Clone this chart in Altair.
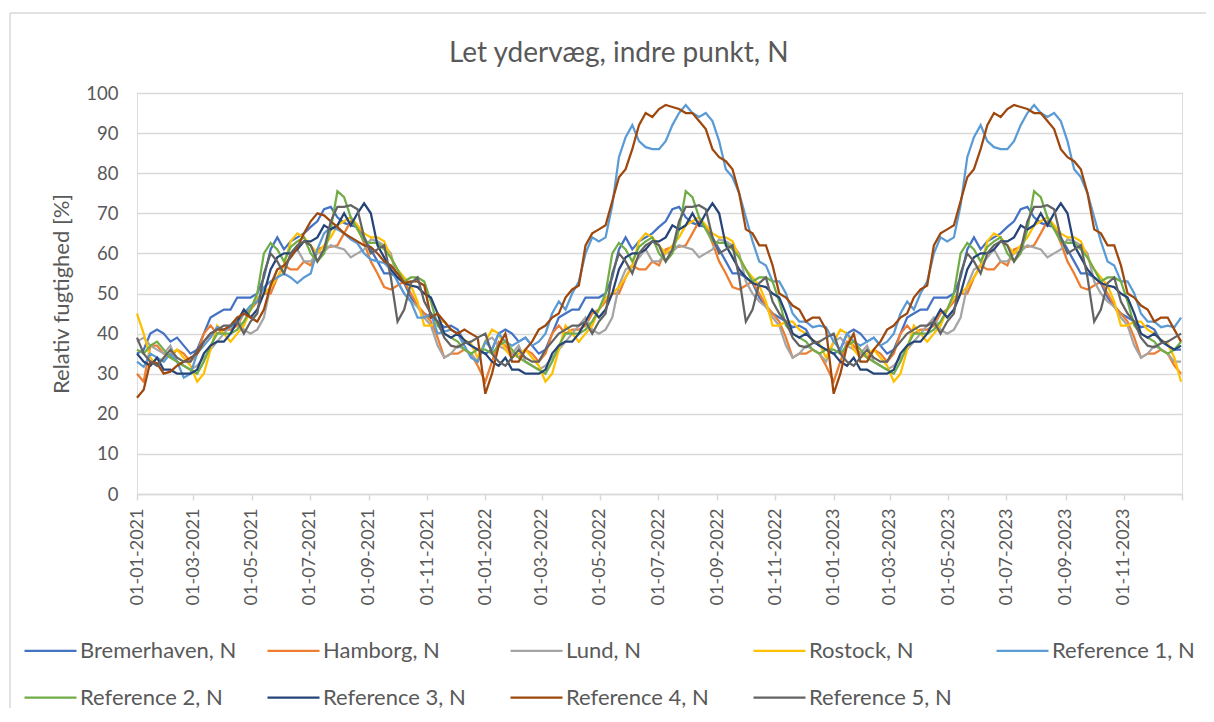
import datetime as dt
import altair as alt
import pandas as pd

SERIES = ["Bremerhaven, N", "Hamborg, N", "Lund, N", "Rostock, N", "Reference 1, N",
          "Reference 2, N", "Reference 3, N", "Reference 4, N", "Reference 5, N"]
COLORS = ["#4472C4", "#ED7D31", "#A5A5A5", "#FFC000", "#5B9BD5",
          "#70AD47", "#264478", "#9E480E", "#636363"]

# Weekly readings over one year (day 0, 7, ..., 357, and 31 Dec), in % RH.
# The simulated year repeats; 2021 differs for Reference 1 and 4.
BREMERHAVEN = [35, 36, 40, 41, 40, 38, 39, 37, 35, 36, 40, 44, 45, 46, 46, 49, 49, 49, 50, 54,
               61, 64, 61, 63, 64, 65, 66.6, 68, 71, 71.6, 69, 67.6, 67, 66.6, 64, 61, 58, 55, 55, 54,
               52.6, 49, 46.7, 45, 44, 43, 41.6, 42, 41, 38, 37, 36, 36]
HAMBORG = [28, 33, 38, 37, 35, 34, 36, 35, 33, 35, 40, 42, 40, 41, 41, 42, 45, 46, 48, 50,
           50, 54, 57, 56, 56, 58, 57, 61, 61.6, 61.6, 62, 65, 68, 66.6, 62.6, 58, 55, 51.6, 51, 52,
           53, 50, 47, 45, 43, 39, 34, 35, 35, 36, 35, 32, 30]
LUND = [38, 39, 37, 36, 35, 37, 33, 32, 31, 32, 34, 36, 38, 40, 42, 44, 41, 40, 41, 44,
        52, 56, 57, 59, 61, 58, 58, 60, 60.5, 62, 61.5, 61, 59, 60, 61, 63.5, 63, 62, 60, 53,
        50, 48, 46.7, 44, 42, 37, 34, 35, 37, 36, 35, 33, 33]
ROSTOCK = [38, 41, 40, 36, 34, 35, 36, 34, 32, 28, 30, 36, 42, 40, 38, 40, 42, 46, 49, 50,
           51.6, 54, 57, 63, 65, 64, 62, 60, 62, 64, 67, 68, 69, 67, 65, 64, 64, 63, 59, 56,
           54, 52, 48, 42, 42, 43, 43, 41, 40, 38.4, 37.5, 34, 28]
REFERENCE_1 = [38, 36, 40, 38, 37, 38, 39, 37, 38, 40, 45, 48, 46, 50, 53, 60, 64, 63, 64, 72,
               84, 89, 92, 88, 86.5, 86, 86, 88, 92, 95, 97, 95, 94, 95, 93, 88, 81, 79, 75, 69,
               63, 58, 57, 53, 53, 50, 45, 43, 43, 41.6, 42, 41.6, 44]
REFERENCE_2 = [36, 35, 37, 38, 36, 34, 33, 32, 31, 30, 33, 37, 40, 40, 40, 41, 43, 46, 50, 60,
               62.6, 61, 58, 61.6, 63, 64, 60, 58, 60, 66, 75.5, 74, 69, 66, 63, 62.6, 62.6, 61, 59, 56,
               53, 54, 54, 53, 48, 42, 40, 39, 38, 36, 35, 36, 38]
REFERENCE_3 = [35, 33, 32, 34, 31, 31, 30, 30, 30, 31, 35, 37, 38, 38, 40, 43, 46, 44, 46, 50,
               56, 59, 60, 60, 61, 63, 63, 64, 67, 66, 67, 70, 67, 70, 72.5, 70, 62, 59, 56, 54,
               52.6, 52, 51.6, 50, 49, 45, 40, 39, 40, 38.4, 37, 36, 37]
REFERENCE_4 = [25, 30, 37, 40, 33, 33, 36, 38, 41, 42, 44, 45, 49, 51, 52, 62, 65, 66, 67, 73,
               79, 81, 86, 92, 95, 94, 96, 97, 96.5, 96, 95, 95, 93, 91, 86, 84, 83, 81, 75, 66,
               65, 62, 62, 57, 50, 49, 47, 46, 43, 44, 44, 41, 38]
REFERENCE_5 = [40, 35, 33, 32, 34, 36, 34, 33, 33, 36, 38, 40, 41, 42, 42, 43, 40, 43, 45, 55,
               60, 58, 55, 60, 62, 63, 62, 58, 61, 68, 71.6, 71.6, 72, 71, 64, 60, 61, 62, 54, 43,
               46, 52.6, 54, 48, 45, 43, 39, 37, 36.6, 37.6, 38, 39, 40]

# 2021 readings where the first year differs
REFERENCE_1_2021 = [33, 31.7, 35, 34, 33, 35, 33, 29, 30, 35, 37, 39, 41.6, 41, 41.6, 43, 45, 47, 48, 51.6,
                    53, 54, 55, 54, 52.6, 54, 55, 61, 65, 66.6, 66, 65, 63.5, 62.5, 60, 58.5, 58, 57.6, 56, 53,
                    50, 48, 44, 44, 45, 40, 40.5, 41, 40, 37, 34, 33]
REFERENCE_4_2021 = [24, 26, 33, 32.6, 30, 30.5, 32, 33, 34, 35, 38, 40, 41, 41, 42, 44, 45, 44, 43, 46,
                    52, 56, 57, 59, 61.5, 65, 68, 70, 69.5, 68, 66.6, 65, 64, 63, 62, 61.6, 60, 58, 57, 55,
                    52.6, 53, 53, 52, 44, 45, 43, 41, 40, 41, 40, 39]
ROSTOCK_START_2021 = [45, 40, 34, 32]
HAMBORG_START_2021 = [30, 28, 37]
REFERENCE_5_START_2021 = [39]

PROFILES = dict(zip(SERIES, [BREMERHAVEN, HAMBORG, LUND, ROSTOCK, REFERENCE_1,
                             REFERENCE_2, REFERENCE_3, REFERENCE_4, REFERENCE_5]))
PROFILES_2021 = {"Reference 1, N": REFERENCE_1_2021, "Reference 4, N": REFERENCE_4_2021}
START_2021 = {"Rostock, N": ROSTOCK_START_2021, "Hamborg, N": HAMBORG_START_2021,
              "Reference 5, N": REFERENCE_5_START_2021}

rows = []
for name in SERIES:
    prof = PROFILES[name]
    for year in (2021, 2022, 2023):
        base = PROFILES_2021.get(name, prof) if year == 2021 else prof
        vals = list(base[:52])
        if year == 2021 and name in START_2021:
            s = START_2021[name]
            vals[:len(s)] = s
        for k, v in enumerate(vals):
            d = dt.date(year, 1, 1) + dt.timedelta(days=7 * k)
            rows.append({"date": d.isoformat() + "T00:00:00", "series": name, "rh": v})
    rows.append({"date": "2023-12-31T00:00:00", "series": name, "rh": prof[52]})
df = pd.DataFrame(rows)

TICKS = [alt.DateTime(year=y, month=m, date=1) for y in (2021, 2022, 2023) for m in (1, 3, 5, 7, 9, 11)]
TICKS.append(alt.DateTime(year=2024, month=1, date=1))

GRAY = "#d9d9d9"
TXT = "#595959"

lines = alt.Chart(df).mark_line(strokeWidth=2.25).encode(
    x=alt.X("date:T",
            scale=alt.Scale(domain=[alt.DateTime(year=2021, month=1, date=1),
                                    alt.DateTime(year=2024, month=1, date=1)]),
            axis=alt.Axis(values=TICKS, title=None, grid=False,
                          labelExpr="year(datum.value) > 2023 ? '' : timeFormat(datum.value, '%d-%m-%Y')",
                          labelAngle=270, labelAlign="right", labelBaseline="middle",
                          labelFont="Lato", labelFontSize=18, labelColor=TXT, labelPadding=8,
                          tickSize=6, tickColor=GRAY, tickWidth=1.5,
                          domainColor=GRAY, domainWidth=1.5, labelOverlap=False)),
    y=alt.Y("rh:Q",
            scale=alt.Scale(domain=[0, 100], nice=False),
            axis=alt.Axis(values=list(range(0, 101, 10)), title="Relativ fugtighed [%]",
                          grid=True, gridColor=GRAY, gridWidth=1.5, domain=False, ticks=False,
                          tickSize=0, labelPadding=19, labelFont="Lato", labelFontSize=18.5,
                          labelColor=TXT, titleFont="Lato", titleFontSize=22,
                          titleFontWeight="normal", titleColor=TXT, titlePadding=12)),
    color=alt.Color("series:N",
                    scale=alt.Scale(domain=SERIES, range=COLORS),
                    legend=alt.Legend(title=None, orient="none", legendX=-114, legendY=530,
                                      columns=5, direction="horizontal", gridAlign="all",
                                      symbolType="stroke", symbolSize=2704, symbolStrokeWidth=2.25,
                                      labelFont="Lato", labelFontSize=22, labelColor=TXT,
                                      labelOffset=2, columnPadding=26, rowPadding=8,
                                      labelLimit=400)),
)

frame_src = alt.Chart(pd.DataFrame({"f": [0]}))
frame_left = frame_src.mark_rule(color=GRAY, strokeWidth=1.5).encode(
    x=alt.value(-127), y=alt.value(-80), y2=alt.value(640))
frame_top = frame_src.mark_rule(color=GRAY, strokeWidth=1.5).encode(
    x=alt.value(-127), x2=alt.value(1090), y=alt.value(-80))

chart = alt.layer(frame_left, frame_top, lines).properties(
    width=1045, height=401,
    title=alt.TitleParams(text="Let ydervæg, indre punkt, N", font="Lato", fontSize=28,
                          fontWeight="normal", color=TXT, anchor="start", frame="group",
                          dx=312, offset=-56),
    autosize=alt.AutoSizeParams(type="none"),
    padding={"left": 129, "top": 85, "right": 24, "bottom": 214},
    background="white",
).configure_view(stroke=None).configure(font="Lato")

chart.save("out.html", embed_options={"renderer": "svg", "actions": False})
